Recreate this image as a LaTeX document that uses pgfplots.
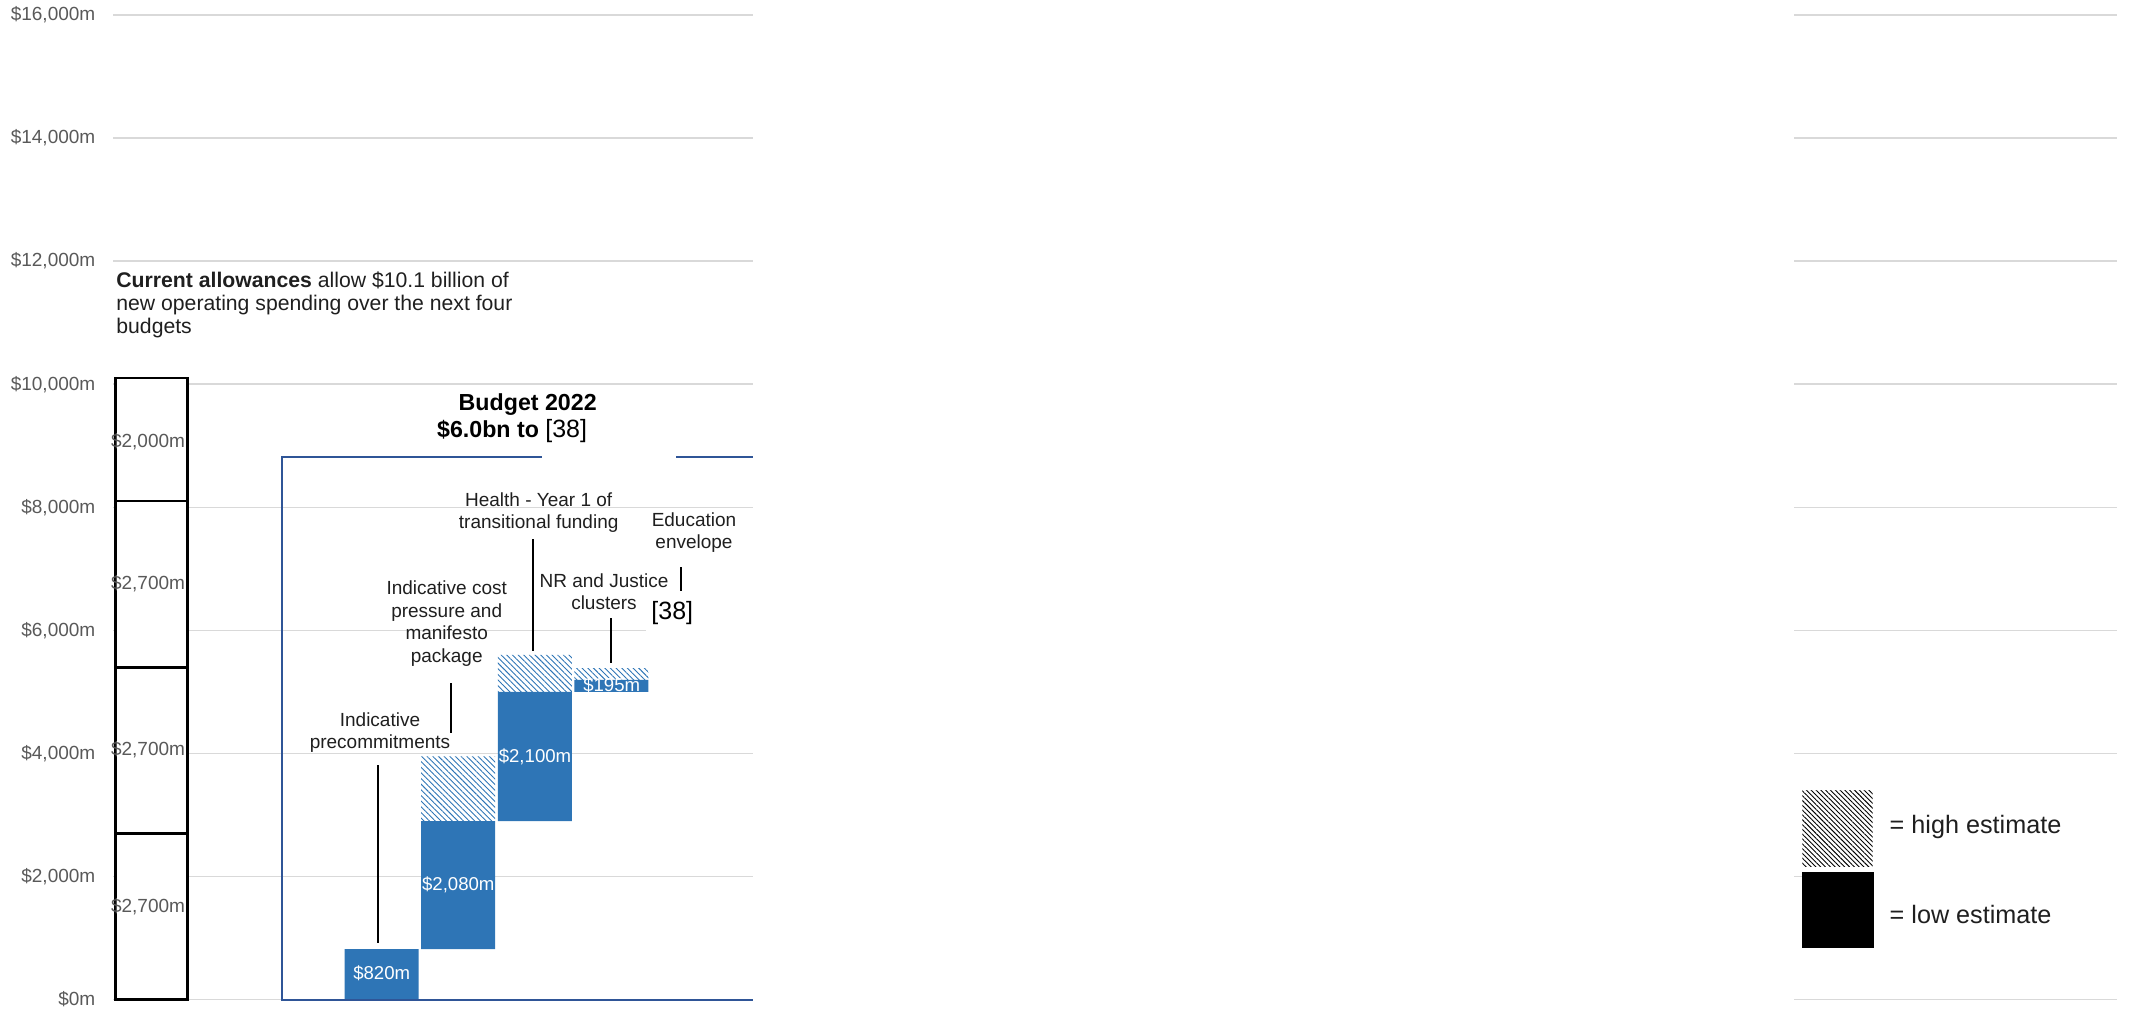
\documentclass[border=0pt]{standalone}
\usepackage{pgfplots}
\pgfplotsset{compat=1.18}
\usepackage{pgfplotstable}
\usetikzlibrary{patterns.meta}
\usepackage{fontspec}
\setmainfont{Liberation Sans}
\definecolor{barblue}{HTML}{2E75B6}
\definecolor{framenavy}{HTML}{2F5597}
\definecolor{gridgray}{HTML}{D9D9D9}
\definecolor{tickgray}{HTML}{595959}
\definecolor{txt}{HTML}{1F1F1F}

% Current allowances: four budget allowances stacked ($m)
\pgfplotstableread{
x s1 s2 s3 s4
0 2700 2700 2700 2000
}\allowtable
% Budget 2022 waterfall: invisible base, low estimate, extra for high estimate ($m)
\pgfplotstableread{
x base low high
3 0 820 0
4 820 2080 1050
5 2900 2100 600
6 5000 195 190
}\budgettable

\newcommand\ann{\fontsize{9.5}{11.25}\selectfont}

\begin{document}
\begin{tikzpicture}
\useasboundingbox (0,0) rectangle (1066pt,504pt);
\pgfplotsset{commonax/.style={
  at={(56.75pt,4.25pt)}, anchor=south west, scale only axis,
  width=1001.5pt, height=492.25pt,
  xmin=-0.5, xmax=25.65, ymin=0, ymax=16000, clip=false,
  ybar stacked,
}}
\begin{axis}[commonax,
  axis line style={draw=none}, xtick=\empty,
  ytick={0,2000,...,16000},
  yticklabels={{\$0m},{\$2,000m},{\$4,000m},{\$6,000m},{\$8,000m},{\$10,000m},{\$12,000m},{\$14,000m},{\$16,000m}},
  ymajorgrids, major grid style={gridgray, line width=0.7pt},
  major tick length=0pt,
  yticklabel style={font=\fontsize{9.5}{11}\selectfont, text=tickgray, inner sep=0pt, xshift=-8.9pt},
  /pgf/number format/assume math mode=true,
  bar width=36pt,
]
\addplot[draw=black, line width=1.4pt, fill=white] table[x=x,y=s1]{\allowtable};
\addplot[draw=black, line width=1.4pt, fill=white] table[x=x,y=s2]{\allowtable};
\addplot[draw=black, line width=1.4pt, fill=white] table[x=x,y=s3]{\allowtable};
\addplot[draw=black, line width=1.4pt, fill=white] table[x=x,y=s4]{\allowtable};
\end{axis}
\begin{axis}[commonax, hide axis, bar width=37pt]
\addplot[draw=none, fill=none] table[x=x,y=base]{\budgettable};
\addplot[draw=none, fill=barblue] table[x=x,y=low]{\budgettable};
\addplot[draw=none, pattern={Lines[angle=-45,distance=2pt,line width=0.45pt]}, pattern color=barblue] table[x=x,y=high]{\budgettable};
\end{axis}

\begin{scope}[x=0.5pt,y=-0.5pt,yshift=504pt]
 % blank middle region and white text boxes
 \fill[white] (752.5,-2) rectangle (1794,1010);
 \fill[white] (646,598) rectangle (752.5,640);
 \fill[white] (1802,780) rectangle (2132,960);
 % Budget 2022 frame
 \draw[framenavy, line width=1pt] (541.7,456.7) -- (281.7,456.7) -- (281.7,999.5) -- (752.5,999.5);
 \draw[framenavy, line width=1pt] (676,456.7) -- (752.5,456.7);
 % leader lines
 \draw[black, line width=0.9pt] (378.3,765) -- (378.3,943.3);
 \draw[black, line width=0.9pt] (451.3,683.3) -- (451.3,733.3);
 \draw[black, line width=0.9pt] (532.7,539.3) -- (532.7,650.7);
 \draw[black, line width=0.9pt] (611,618.3) -- (611,662.7);
 \draw[black, line width=0.9pt] (681,567.3) -- (681,590.7);
 % annotations
 \node[align=center, text=txt, font=\ann, inner sep=0pt] at (380,732.8) {Indicative\\precommitments};
 \node[align=center, text=txt, font=\ann, inner sep=0pt] at (446.7,623.5) {Indicative cost\\pressure and\\manifesto\\package};
 \node[align=center, text=txt, font=\ann, inner sep=0pt] at (538.7,512.5) {Health - Year 1 of\\transitional funding};
 \node[align=center, text=txt, font=\ann, inner sep=0pt] at (604,591.7) {NR and Justice\\clusters};
 \node[align=center, text=txt, font=\ann, inner sep=0pt] at (694,532.8) {Education\\envelope};
 \node[font=\fontsize{12.5}{14}\selectfont, text=black, inner sep=0pt] at (672.3,612.7) {[38]};
 % title
 \node[font=\bfseries\fontsize{11.6}{13}\selectfont, inner sep=0pt] at (527.7,405) {Budget 2022};
 \node[anchor=west, inner sep=0pt] at (436.7,430.7) {\bfseries\fontsize{11.6}{13}\selectfont \$6.0bn to {\mdseries\fontsize{12.5}{14}\selectfont[38]}};
 \node[anchor=west, align=left, inner sep=0pt, font=\fontsize{10.6}{11.65}\selectfont, text=txt] at (116,305) {\textbf{Current allowances} allow \$10.1 billion of\\new operating spending over the next four\\budgets};
 % bar value labels
 \node[text=white, font=\fontsize{9.3}{11}\selectfont, inner sep=0pt] at (381.7,973.3) {\$820m};
 \node[text=white, font=\fontsize{9.3}{11}\selectfont, inner sep=0pt] at (458.3,885) {\$2,080m};
 \node[text=white, font=\fontsize{9.3}{11}\selectfont, inner sep=0pt] at (535,756.7) {\$2,100m};
 \node[text=white, font=\fontsize{9.3}{11}\selectfont, inner sep=0pt] at (611.7,685) {\$195m};
 % allowance labels
 \node[text=tickgray, font=\fontsize{9.5}{11}\selectfont, inner sep=0pt] at (148,906.7) {\$2,700m};
 \node[text=tickgray, font=\fontsize{9.5}{11}\selectfont, inner sep=0pt] at (148,750) {\$2,700m};
 \node[text=tickgray, font=\fontsize{9.5}{11}\selectfont, inner sep=0pt] at (148,583.4) {\$2,700m};
 \node[text=tickgray, font=\fontsize{9.5}{11}\selectfont, inner sep=0pt] at (148,442) {\$2,000m};
 % legend
 \fill[pattern={Lines[angle=-45,distance=1.7pt,line width=0.45pt]}, pattern color=black] (1802.3,790) rectangle (1872.7,866);
 \fill[black] (1802.3,872.3) rectangle (1874,948.3);
 \node[anchor=west, inner sep=0pt, font=\fontsize{12.6}{14}\selectfont, text=txt] at (1889.3,827.3) {= high estimate};
 \node[anchor=west, inner sep=0pt, font=\fontsize{12.6}{14}\selectfont, text=txt] at (1889.3,914) {= low estimate};
\end{scope}
\end{tikzpicture}
\end{document}
